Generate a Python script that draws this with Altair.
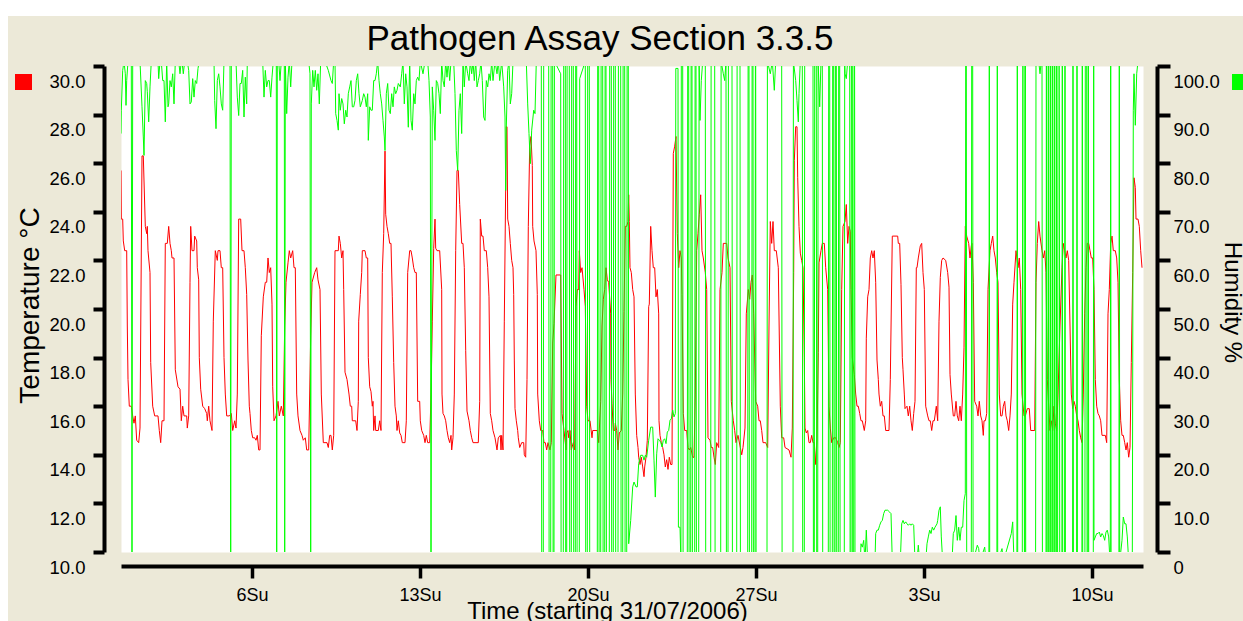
import altair as alt
import pandas as pd

# ---------------- data (hours since 31/07/2006 00:00) ----------------
temperature_readings = [
    (13.0, 25.7), (13.3, 23.7), (14.7, 23.7), (15.3, 22.8), (16.7, 22.4), (18.7, 22.4), (19.3, 19.3), (20.0, 17.1),
    (21.3, 16.0), (23.3, 16.0), (24.7, 15.6), (26.0, 15.3), (27.3, 15.6), (28.7, 14.6), (30.7, 14.5), (32.0, 15.1),
    (34.0, 26.3), (35.3, 26.3), (37.3, 23.4), (38.7, 23.1), (39.3, 23.4), (40.0, 22.4), (42.0, 21.5), (42.7, 17.8),
    (44.7, 16.0), (46.7, 15.6), (50.0, 15.6), (51.3, 15.0), (52.7, 14.5), (54.0, 15.4), (56.0, 15.4), (57.3, 22.7),
    (59.3, 22.7), (60.7, 23.4), (62.0, 22.7), (63.3, 22.4), (64.0, 22.1), (66.0, 22.1), (67.3, 17.5), (70.0, 16.8),
    (72.0, 16.7), (73.3, 15.4), (74.7, 16.0), (76.0, 15.6), (78.7, 15.6), (79.3, 15.1), (80.7, 15.6), (82.0, 21.1),
    (82.7, 23.4), (84.0, 22.4), (86.0, 22.4), (86.7, 23.0), (88.7, 22.8), (89.3, 21.7), (90.7, 21.2), (91.3, 18.0),
    (92.7, 16.7), (94.7, 16.0), (96.7, 15.9), (98.7, 15.7), (99.3, 15.4), (100.7, 16.0), (102.0, 15.4), (104.0, 15.0),
    (105.3, 19.5), (107.3, 22.4), (109.3, 22.0), (110.0, 22.4), (112.0, 22.4), (113.3, 21.7), (114.7, 21.7), (116.0, 18.0),
    (117.3, 16.5), (118.7, 15.6), (121.3, 15.6), (123.3, 15.7), (124.7, 15.0), (126.7, 15.4), (128.0, 15.1), (129.3, 16.5),
    (130.7, 23.7), (132.7, 23.7), (134.0, 22.4), (136.0, 22.4), (137.3, 21.7), (138.7, 20.6), (140.0, 17.9), (141.3, 16.0),
    (142.0, 15.7), (143.3, 15.0), (144.7, 14.7), (146.7, 14.7), (148.0, 14.6), (149.3, 14.8), (150.7, 14.2), (152.0, 14.2),
    (153.3, 18.9), (155.3, 20.5), (157.3, 21.1), (158.7, 21.1), (160.0, 22.1), (161.3, 21.5), (162.7, 21.7), (164.0, 20.2),
    (164.7, 16.8), (166.0, 15.4), (168.0, 15.6), (170.0, 16.2), (171.3, 15.6), (173.3, 16.0), (175.3, 15.6), (176.7, 19.3),
    (178.0, 21.1), (180.0, 21.9), (181.3, 22.4), (182.7, 22.1), (184.7, 22.4), (186.0, 21.7), (187.3, 21.7), (188.7, 16.5),
    (190.0, 15.6), (192.0, 15.0), (194.0, 14.8), (195.3, 14.6), (197.3, 14.7), (198.7, 14.2), (200.7, 14.2), (202.7, 18.9),
    (204.0, 21.1), (206.7, 21.5), (208.7, 21.7), (210.0, 21.2), (212.0, 20.8), (213.3, 16.5), (215.3, 14.5), (219.0, 14.5),
    (220.3, 14.3), (221.7, 14.8), (223.0, 14.8), (224.3, 14.2), (225.7, 14.8), (227.0, 22.4), (230.3, 22.4), (231.0, 23.0),
    (232.3, 22.7), (233.7, 22.1), (235.0, 22.4), (235.7, 20.8), (237.0, 17.4), (239.0, 17.1), (241.0, 16.5), (242.3, 16.0),
    (243.7, 16.0), (244.3, 15.4), (247.7, 15.4), (249.0, 15.0), (250.3, 16.2), (250.7, 19.5), (252.3, 20.6), (253.7, 21.5),
    (254.3, 22.4), (257.0, 22.4), (258.3, 22.1), (259.7, 22.1), (260.3, 18.0), (261.7, 16.8), (263.0, 16.6), (264.3, 16.0),
    (265.0, 16.2), (265.7, 15.0), (267.0, 15.6), (267.7, 15.0), (270.3, 15.0), (271.7, 15.4), (273.0, 15.0), (274.3, 21.5),
    (275.7, 23.1), (277.0, 26.5), (277.7, 23.9), (279.0, 23.4), (280.3, 23.1), (281.7, 22.7), (283.0, 22.7), (284.3, 20.5),
    (285.7, 17.8), (287.0, 16.0), (288.3, 15.6), (289.0, 15.0), (290.3, 15.4), (291.7, 14.9), (293.0, 14.8), (294.3, 14.5),
    (297.0, 14.5), (298.3, 15.4), (299.7, 21.5), (301.7, 22.4), (303.0, 22.4), (304.3, 22.1), (305.7, 21.7), (307.0, 21.5),
    (308.3, 21.5), (309.7, 16.2), (311.7, 16.2), (312.3, 15.4), (313.7, 15.0), (315.7, 14.8), (317.0, 14.5), (318.3, 14.8),
    (319.7, 14.5), (321.7, 14.5), (323.0, 16.5), (324.3, 19.5), (325.7, 22.5), (327.0, 23.7), (327.7, 22.5), (329.0, 22.4),
    (331.7, 22.4), (333.7, 20.8), (334.0, 16.5), (335.0, 15.7), (336.3, 15.6), (337.7, 15.4), (339.0, 15.0), (340.3, 14.7),
    (341.7, 14.5), (343.0, 14.8), (343.7, 14.2), (345.0, 14.7), (346.3, 16.5), (347.7, 22.4), (349.0, 25.7), (350.3, 25.7),
    (351.7, 24.3), (353.7, 22.7), (355.0, 22.7), (356.3, 21.7), (357.7, 18.3), (359.0, 15.8), (361.0, 15.4), (362.3, 15.0),
    (363.7, 14.7), (365.0, 14.5), (370.3, 14.5), (371.7, 16.2), (372.3, 23.7), (373.7, 23.0), (375.0, 23.0), (376.3, 22.4),
    (378.3, 22.4), (379.7, 21.7), (381.0, 20.5), (382.3, 15.7), (383.7, 15.4), (385.0, 15.0), (387.0, 14.7), (389.0, 14.2),
    (390.3, 14.7), (392.3, 14.8), (393.0, 14.2), (393.7, 14.8), (395.0, 14.2), (396.3, 19.5), (398.3, 27.5), (399.0, 27.5),
    (399.7, 23.7), (401.0, 23.4), (402.3, 22.7), (403.7, 22.0), (405.0, 21.7), (405.7, 20.6), (406.3, 17.9), (407.0, 15.9),
    (408.3, 15.4), (409.7, 15.0), (410.3, 14.7), (411.7, 14.3), (413.7, 14.5), (415.7, 14.5), (416.3, 14.0), (417.7, 13.9),
    (419.0, 17.1), (420.3, 23.4), (421.7, 26.7), (423.0, 27.1), (424.3, 25.9), (424.7, 23.4), (426.0, 22.8), (428.0, 22.4),
    (429.3, 20.6), (429.7, 16.5), (431.3, 15.4), (432.7, 15.0), (434.7, 15.0), (436.0, 14.5), (437.3, 14.5), (438.7, 14.2),
    (440.0, 14.5), (442.0, 14.2), (443.3, 14.5), (444.7, 18.6), (446.0, 19.4), (448.0, 21.4), (452.7, 21.4), (454.0, 15.7),
    (456.0, 15.0), (457.3, 14.5), (458.0, 14.2), (458.7, 14.9), (460.0, 15.0), (460.7, 14.7), (462.0, 15.0), (463.3, 14.2),
    (465.3, 14.5), (466.7, 14.2), (468.0, 20.1), (469.3, 20.8), (470.7, 20.8), (471.3, 22.4), (472.7, 21.5), (474.0, 21.7),
    (474.7, 21.4), (476.0, 20.8), (477.3, 20.1), (478.7, 16.0), (480.0, 15.4), (482.0, 15.4), (484.0, 14.7), (484.7, 15.0),
    (489.3, 15.0), (490.7, 14.5), (492.7, 16.2), (494.0, 19.3), (495.3, 20.4), (496.7, 20.8), (498.0, 21.7), (499.3, 21.2),
    (500.7, 21.1), (502.7, 19.8), (503.0, 17.1), (504.0, 16.1), (505.3, 15.0), (506.7, 15.0), (507.3, 15.3), (508.7, 15.0),
    (510.0, 14.2), (511.3, 14.9), (513.3, 15.0), (514.7, 16.5), (516.0, 19.9), (517.3, 23.4), (518.7, 23.4), (520.0, 23.6),
    (520.7, 24.7), (521.3, 23.6), (522.0, 21.7), (523.3, 21.5), (524.7, 20.8), (526.0, 20.5), (527.3, 16.5), (528.7, 14.8),
    (530.0, 14.3), (530.7, 13.9), (532.0, 13.6), (533.3, 13.9), (534.7, 13.5), (536.0, 13.1), (536.7, 13.5), (538.0, 13.9),
    (539.3, 14.6), (540.7, 20.1), (541.3, 20.2), (542.7, 23.4), (544.0, 22.4), (545.3, 21.7), (546.7, 21.7), (548.0, 20.5),
    (549.3, 20.8), (550.7, 19.8), (551.0, 15.4), (552.0, 14.8), (553.3, 14.5), (554.7, 14.3), (556.0, 14.0), (557.3, 13.5),
    (558.7, 13.8), (560.0, 13.4), (561.3, 13.9), (562.7, 13.6), (564.0, 13.6), (565.3, 26.4), (566.7, 26.7), (568.0, 27.1),
    (569.3, 23.1), (570.7, 21.7), (572.0, 22.4), (573.3, 22.1), (574.0, 20.6), (575.3, 15.7), (576.7, 15.0), (578.7, 15.0),
    (580.0, 14.3), (581.3, 14.2), (582.7, 14.3), (584.7, 13.9), (586.0, 13.9), (587.3, 16.5), (588.7, 22.4), (590.0, 23.1),
    (591.3, 23.9), (592.7, 24.7), (594.0, 22.4), (595.3, 22.1), (597.3, 21.5), (598.7, 20.8), (600.0, 14.7), (602.0, 14.6),
    (603.3, 14.3), (604.7, 14.3), (606.0, 13.9), (607.3, 13.6), (608.7, 14.5), (610.7, 14.3), (612.0, 20.8), (614.0, 21.5),
    (615.3, 22.7), (618.7, 22.7), (620.0, 22.1), (622.0, 21.7), (623.3, 16.2), (625.3, 15.4), (626.7, 15.0), (628.0, 14.5),
    (630.0, 14.8), (632.3, 14.3), (633.7, 14.0), (635.0, 14.3), (637.0, 15.1), (638.3, 19.8), (640.3, 20.8), (641.7, 20.4),
    (643.0, 21.1), (644.3, 21.4), (645.7, 19.8), (647.7, 16.2), (649.7, 16.0), (651.0, 15.4), (652.3, 15.4), (653.7, 15.0),
    (655.0, 14.5), (657.7, 14.5), (659.7, 14.3), (661.0, 19.3), (662.3, 23.6), (663.7, 22.7), (665.0, 23.6), (666.3, 22.4),
    (668.3, 22.4), (670.3, 21.7), (672.3, 16.0), (673.7, 14.7), (675.7, 14.7), (677.0, 14.3), (681.0, 14.2), (683.0, 13.9),
    (684.3, 15.1), (685.7, 21.5), (686.3, 26.1), (687.7, 27.5), (689.0, 27.5), (689.7, 25.4), (691.0, 23.4), (692.3, 22.3),
    (693.7, 22.0), (695.0, 21.7), (696.3, 18.0), (697.0, 15.1), (698.3, 14.9), (699.7, 15.0), (701.0, 14.5), (702.3, 14.5),
    (703.7, 14.8), (705.0, 14.5), (706.3, 14.5), (707.7, 13.6), (709.0, 14.6), (710.3, 18.2), (711.0, 21.9), (713.0, 22.4),
    (714.3, 22.7), (716.3, 22.7), (717.7, 21.7), (719.7, 20.8), (721.0, 16.0), (722.3, 15.1), (723.7, 14.5), (725.7, 14.7),
    (727.7, 14.7), (729.7, 14.5), (731.0, 14.3), (732.3, 14.5), (733.7, 20.8), (735.0, 23.4), (737.0, 23.6), (738.3, 24.3),
    (739.7, 22.7), (741.0, 23.4), (742.3, 23.2), (743.0, 20.8), (744.3, 18.0), (746.3, 17.3), (747.7, 16.5), (749.0, 16.0),
    (750.3, 16.0), (751.7, 15.7), (753.0, 15.4), (754.3, 15.4), (756.3, 15.0), (757.7, 15.4), (758.3, 18.8), (759.7, 20.5),
    (761.0, 20.8), (762.3, 22.1), (763.7, 22.4), (765.0, 22.1), (766.3, 22.4), (767.7, 21.1), (769.0, 17.9), (770.3, 17.1),
    (771.0, 16.5), (772.3, 16.0), (773.7, 16.2), (775.0, 15.6), (776.3, 15.6), (777.7, 15.0), (781.0, 15.0), (782.3, 17.1),
    (784.3, 23.0), (789.7, 23.0), (790.3, 22.7), (791.7, 22.7), (793.0, 21.0), (794.3, 18.0), (795.0, 17.5), (796.3, 16.5),
    (797.0, 15.9), (799.0, 16.0), (800.3, 15.6), (801.7, 16.0), (803.0, 15.4), (804.3, 15.0), (805.7, 15.7), (807.0, 16.2),
    (808.3, 21.7), (809.0, 21.7), (810.3, 22.1), (812.3, 22.6), (813.7, 22.7), (815.0, 21.5), (816.3, 20.8), (817.7, 16.0),
    (819.7, 15.6), (821.0, 15.4), (822.3, 15.4), (823.7, 15.0), (825.0, 15.4), (826.3, 15.4), (828.3, 16.0), (829.7, 15.4),
    (831.0, 19.5), (832.3, 21.3), (833.7, 22.0), (835.0, 22.1), (837.7, 22.0), (839.7, 21.5), (841.0, 20.9), (842.0, 17.3),
    (843.3, 16.5), (845.3, 15.6), (846.7, 15.6), (848.0, 16.2), (849.3, 15.6), (850.7, 15.4), (852.0, 16.0), (853.3, 15.4),
    (854.7, 16.5), (856.0, 18.4), (857.3, 23.4), (858.7, 23.0), (860.7, 22.7), (862.0, 22.1), (863.3, 22.6), (864.0, 22.7),
    (865.3, 21.1), (866.7, 16.2), (868.7, 16.0), (870.0, 15.6), (871.3, 16.2), (872.7, 15.6), (874.0, 15.4), (875.3, 14.8),
    (876.0, 15.4), (877.3, 15.4), (878.7, 15.7), (880.0, 20.8), (882.0, 22.4), (883.3, 22.7), (884.7, 23.0), (886.0, 22.4),
    (887.3, 22.1), (888.7, 21.5), (890.0, 21.1), (891.3, 16.5), (892.7, 15.6), (894.0, 15.6), (895.3, 16.0), (896.7, 16.2),
    (898.0, 15.6), (899.3, 15.4), (900.7, 15.0), (902.0, 15.6), (903.3, 16.5), (904.7, 20.2), (906.0, 21.1), (908.0, 22.4),
    (910.0, 21.7), (911.3, 22.1), (912.7, 20.8), (914.0, 16.5), (916.0, 15.6), (917.3, 15.6), (919.3, 15.9), (921.3, 15.9),
    (922.7, 15.0), (926.7, 15.0), (928.0, 21.1), (929.3, 22.7), (930.7, 23.6), (932.0, 23.0), (934.0, 22.4), (935.3, 22.1),
    (936.7, 22.4), (938.0, 21.5), (939.3, 17.1), (942.0, 15.0), (943.3, 15.4), (944.7, 15.0), (946.0, 16.0), (947.3, 15.3),
    (948.7, 15.0), (950.0, 16.5), (952.0, 19.3), (954.0, 21.7), (955.3, 22.7), (956.7, 22.4), (958.0, 22.1), (959.3, 22.4),
    (960.7, 22.0), (962.0, 19.3), (963.3, 16.5), (964.7, 15.9), (966.0, 16.2), (967.3, 16.0), (968.7, 15.6), (970.0, 15.4),
    (971.3, 15.0), (972.7, 14.7), (974.0, 14.5), (975.3, 16.5), (976.7, 19.8), (978.0, 21.7), (979.3, 22.7), (980.7, 22.7),
    (982.0, 22.4), (983.3, 22.1), (984.7, 22.1), (986.0, 20.8), (987.3, 17.1), (988.7, 16.0), (990.0, 15.7), (991.3, 15.6),
    (992.7, 15.4), (994.0, 14.8), (997.3, 14.8), (998.7, 14.5), (1000.0, 19.8), (1001.3, 20.8), (1002.7, 22.7), (1004.0, 23.0),
    (1005.3, 22.4), (1007.3, 22.4), (1008.7, 22.1), (1010.0, 21.1), (1011.3, 17.1), (1012.7, 15.4), (1014.0, 14.8), (1015.3, 14.8),
    (1016.7, 14.5), (1018.0, 14.2), (1019.3, 14.5), (1020.7, 13.9), (1022.0, 14.3), (1023.3, 17.8), (1024.7, 21.5), (1026.0, 25.4),
    (1027.3, 25.0), (1028.0, 23.7), (1030.0, 23.7), (1031.3, 23.4), (1032.7, 22.4), (1034.0, 21.7),
]

# humidity: 101 / -2 mark readings that run off the top / bottom of the plot
humidity_readings = [
    (13.0, 86.1), (13.3, 90.9), (14.7, 99.1), (16.0, 101), (17.3, 98.4), (18.0, 91.9), (18.7, 97.0), (20.0, 101),
    (23.3, 101), (24.0, -2), (24.7, 101), (32.0, 101), (34.0, 91.6), (35.3, 85.4), (36.0, 81.6), (37.3, 97.0),
    (38.7, 96.4), (39.3, 94.7), (40.7, 88.5), (42.0, 95.7), (43.3, 101), (50.0, 101), (50.7, 97.4), (52.0, 101),
    (53.3, 101), (54.7, 97.0), (56.0, 97.0), (57.3, 88.5), (58.7, 101), (60.0, 91.6), (60.7, 92.2), (62.0, 97.0),
    (63.3, 95.7), (64.7, 98.4), (66.0, 92.2), (67.3, 101), (70.7, 101), (72.0, 98.4), (73.3, 101), (74.0, 101),
    (75.3, 98.4), (76.7, 101), (79.3, 101), (80.7, 99.1), (82.0, 92.2), (83.3, 92.6), (84.7, 97.4), (86.0, 93.6),
    (87.3, 97.0), (88.7, 96.4), (90.0, 99.5), (91.3, 101), (106.0, 101), (106.7, 92.9), (108.0, 87.1), (109.3, 97.0),
    (110.7, 98.4), (112.0, 95.7), (113.3, 92.2), (114.7, 90.9), (116.0, 101), (122.0, 101), (122.7, -2), (123.3, 101),
    (128.0, 101), (129.3, 93.6), (130.7, 89.8), (132.0, 96.4), (133.3, 96.4), (134.7, 99.1), (136.0, 89.5), (137.3, 97.7),
    (138.7, 92.2), (139.3, 101), (154.7, 101), (156.0, 93.6), (157.3, 99.1), (158.7, 95.7), (160.0, 97.0), (161.3, 97.0),
    (162.7, 93.6), (164.0, 97.7), (165.3, 101), (168.3, 101), (168.7, -2), (169.3, 101), (170.7, 101), (172.0, 97.0),
    (173.3, 101), (176.3, 101), (176.7, -2), (177.3, 101), (178.7, 90.2), (180.0, 97.7), (181.3, 101), (182.7, 95.7),
    (184.0, 101), (200.7, 101), (202.0, 98.4), (202.7, -2), (203.3, 92.2), (204.7, 99.1), (206.0, 95.7), (207.3, 99.1),
    (208.7, 95.0), (210.0, 98.4), (211.3, 92.2), (212.7, 101), (217.0, 101), (220.3, 99.1), (223.0, 97.0), (224.3, 96.4),
    (225.7, 101), (227.0, 101), (227.7, 90.2), (229.0, 88.8), (230.3, 86.8), (231.0, 94.3), (232.3, 90.9), (233.7, 93.3),
    (235.0, 92.2), (236.3, 88.1), (237.7, 90.9), (239.0, 89.5), (240.3, 94.3), (241.7, 95.7), (243.0, 97.0), (244.3, 91.6),
    (245.7, 91.6), (247.0, 92.9), (248.3, 97.0), (249.7, 98.4), (251.0, 94.3), (252.3, 91.6), (254.3, 92.9), (255.7, 94.3),
    (257.0, 93.6), (258.3, 91.6), (259.7, 94.3), (260.3, 84.7), (261.7, 91.6), (263.0, 90.9), (264.3, 90.9), (265.7, 97.0),
    (267.0, 97.0), (268.3, 98.4), (269.7, 101), (271.0, 97.0), (272.3, 94.3), (273.7, 92.2), (275.0, 88.8), (276.3, 85.4),
    (277.0, 82.6), (278.3, 94.3), (279.7, 96.4), (281.0, 90.9), (282.3, 90.2), (283.7, 94.3), (285.0, 91.6), (286.3, 95.7),
    (287.7, 94.3), (289.0, 95.0), (290.3, 96.4), (292.3, 95.7), (293.7, 98.4), (295.0, 101), (296.3, 92.2), (297.7, 98.4),
    (299.0, 95.7), (300.3, 87.4), (301.7, 101), (303.0, 88.8), (304.3, 86.8), (305.7, 94.3), (307.0, 92.2), (308.3, 97.0),
    (309.7, 97.7), (311.0, 97.0), (312.3, 101), (315.0, 98.4), (317.0, 101), (319.7, 101), (321.0, 97.0), (322.3, 89.5),
    (323.0, -2), (324.3, 95.7), (325.7, 90.9), (327.0, 84.7), (328.3, 97.0), (329.7, 96.4), (331.0, 94.3), (332.3, 90.2),
    (333.7, 101), (335.0, 97.0), (336.3, 95.7), (337.7, 101), (339.0, 97.7), (340.3, 101), (341.7, 97.0), (343.0, 101),
    (345.7, 101), (347.0, 94.3), (348.3, 82.6), (349.7, 78.5), (351.0, 90.9), (352.3, 94.3), (353.7, 86.1), (355.0, 101),
    (356.3, 95.7), (357.7, 101), (359.7, 98.4), (361.0, 97.0), (362.3, 101), (363.7, 98.4), (365.0, 101), (366.3, 97.0),
    (367.7, 101), (369.0, 95.7), (370.3, 97.0), (371.7, 98.4), (373.0, 101), (374.3, 97.0), (375.7, 89.5), (377.0, 88.8),
    (378.3, 97.0), (379.7, 95.7), (381.0, 98.4), (382.3, 97.0), (383.7, 101), (385.0, 97.0), (387.0, 101), (389.0, 98.4),
    (390.3, 101), (391.7, 97.0), (393.7, 101), (395.7, 95.7), (397.0, 89.5), (397.7, 74.4), (398.3, 87.4), (399.7, 99.1),
    (401.0, 101), (402.3, 92.2), (403.7, 94.3), (405.0, 101), (418.3, 101), (419.7, 92.2), (421.0, 86.1), (422.3, 79.9),
    (423.7, 86.8), (425.7, 90.9), (427.0, 90.2), (428.3, 101),
    (433.3, 101), (433.7, -2), (435.3, -2), (435.7, 101), (440.7, 101), (441.1, -2), (442.7, -2), (443.1, 101),
    (444.7, 101), (445.1, -2), (446.0, -2), (446.4, 101), (452.7, 98.4), (453.1, -2), (455.3, -2), (455.7, 101),
    (457.3, 101), (457.7, -2), (458.7, -2), (459.1, 101), (461.3, 101), (461.7, -2), (463.3, -2), (463.7, 101),
    (465.3, 101), (465.7, -2), (467.3, -2), (467.7, 101), (468.7, 101), (469.1, -2), (471.3, -2), (471.7, 97.4),
    (477.3, 101), (477.7, -2), (479.3, -2), (479.7, 101), (481.3, 101), (481.7, -2), (489.3, -2), (489.7, 101),
    (490.7, 101), (491.1, -2), (492.7, -2), (493.1, 101), (494.7, 101), (495.1, -2), (496.7, -2), (497.1, 101),
    (498.0, 101), (498.4, -2), (501.3, -2), (501.7, 101), (503.3, 101), (503.7, -2), (505.3, -2), (505.7, 101),
    (507.3, 101), (507.7, -2), (510.0, -2), (510.4, 101), (512.7, 101), (513.1, -2), (514.7, -2), (515.1, 101),
    (516.7, 101), (517.1, -2), (518.7, -2), (519.1, 101), (520.3, 101), (520.7, 1.7),
    (522.7, 6.5), (524.7, 13.4), (526.0, 14.4), (528.0, 13.4), (529.3, 13.4), (530.7, 18.2), (532.7, 19.9), (534.7, 19.9),
    (536.0, 18.9), (537.3, 19.9), (538.7, 19.5), (540.7, 23.0), (542.7, 25.7), (544.7, 25.7), (546.0, 18.9), (547.3, 11.3),
    (548.7, 20.2), (550.0, 23.3), (551.3, 23.0), (552.7, 22.6), (554.0, 21.6), (555.3, 23.0), (556.7, 23.3), (558.0, 22.3),
    (559.3, 24.7), (560.7, 25.0), (562.0, 27.1), (563.3, 27.4), (564.7, 29.2), (566.0, 27.8), (567.3, 28.5), (567.8, 99.5),
    (570.0, 99.5), (570.4, 5.1), (572.0, 5.1), (572.9, -2), (573.3, 101), (574.7, 101), (575.1, -2), (579.3, -2),
    (579.7, 101), (580.7, 101), (581.1, -2), (582.7, -2), (583.1, 101), (584.0, 101), (584.4, -2), (586.7, -2),
    (587.1, 101), (588.0, 101), (588.4, -2), (590.7, -2), (591.1, 101), (592.0, 88.8), (593.3, 97.0), (594.7, 101),
    (597.3, 101), (597.7, -2), (602.7, -2), (603.1, 101), (606.7, 101), (607.1, -2), (612.7, -2), (613.1, 101),
    (615.3, 98.4), (616.7, 97.0), (618.0, 101), (618.4, -2), (620.0, -2), (620.4, 101), (624.0, 101), (624.4, -2),
    (628.7, -2), (629.1, 101), (632.0, 101), (632.4, -2), (639.7, -2), (640.1, 101), (641.0, 101), (641.4, -2),
    (643.7, -2), (644.1, 101), (645.0, 101), (645.4, -2), (647.0, -2), (647.4, 101), (647.7, 101), (648.1, -2),
    (659.0, -2), (659.4, 101), (662.3, 98.4), (664.3, 101), (666.3, 95.0), (667.7, 101), (673.7, 101), (674.1, -2),
    (685.0, -2), (685.4, 101), (687.7, 97.0), (689.0, 92.9), (690.3, 88.5), (691.0, 94.3), (692.3, 101), (694.3, 101),
    (694.7, -2), (696.3, -2), (696.7, 101), (705.0, 101), (705.4, -2), (706.3, -2), (706.7, 101), (708.3, 101),
    (708.7, -2), (709.7, -2), (710.1, 101), (711.7, 91.6), (713.0, 101), (714.3, 101), (714.7, -2), (720.3, -2),
    (720.7, 101), (721.7, 101), (722.1, -2), (724.3, -2), (724.7, 101), (725.7, 101), (726.1, -2), (727.0, -2),
    (727.4, 101), (728.3, 101), (728.7, -2), (730.3, -2), (730.7, 101), (731.7, 101), (732.1, -2), (736.3, -2),
    (736.7, 101), (737.0, 98.4), (738.3, 97.4), (739.7, 101), (741.7, 101), (742.1, -2), (743.0, -2), (743.4, 101),
    (744.3, 101), (744.7, -2), (745.7, -2), (746.1, 101), (746.6, 101), (747.0, -2),
    (752.3, -2), (753.0, 1.7), (754.3, 1.0), (755.7, 2.4), (757.0, -2), (758.3, 4.5), (759.7, -2), (767.0, -2),
    (767.7, 3.8), (769.0, 4.5), (770.3, 4.5), (771.7, 5.5), (773.0, 6.2), (774.3, 6.5), (775.7, 7.9), (777.0, 8.6),
    (779.7, 8.6), (781.7, 8.2), (783.0, 7.9), (784.3, -2), (792.3, -2), (793.7, 5.8), (795.0, 6.5), (796.3, 5.8),
    (797.7, 6.2), (799.0, 5.8), (800.3, 5.5), (801.7, 5.8), (803.0, 5.5), (804.3, 5.8), (805.7, 5.5), (807.0, -2),
    (809.0, -2), (810.3, 1.4), (811.7, -2), (817.7, -2), (819.0, 1.7), (820.3, 3.1), (821.7, 4.5), (823.0, 3.8),
    (824.3, 5.1), (825.7, 4.5), (827.0, 5.1), (829.0, 5.8), (829.7, 6.5), (831.0, 8.6), (832.3, 9.3), (833.3, 3.1),
    (834.7, -2), (844.0, -2), (845.3, 3.8), (846.7, 4.5), (848.0, 7.5), (849.3, 2.4), (850.7, 5.1), (852.0, 2.4),
    (853.3, 5.1), (854.7, 5.1), (856.0, 10.6), (857.3, 12.0), (857.7, 101), (858.3, 101), (858.7, -2), (863.3, -2),
    (863.7, 101), (864.7, 101), (865.1, -2), (869.3, 1.4), (870.7, 0.7), (872.0, -2), (876.7, 1.0), (878.0, -2),
    (880.9, -2), (881.3, 101), (881.7, -2), (888.9, -2), (889.3, 101), (889.7, -2), (894.0, 0.7), (895.3, -2),
    (903.3, 3.8), (904.7, 6.2), (906.0, -2), (908.9, -2), (909.3, 101), (909.7, -2), (914.3, -2), (914.7, 101),
    (916.0, 101), (916.4, -2), (916.9, -2), (917.3, 101), (917.7, -2), (927.6, -2), (928.0, 101), (930.7, 101),
    (932.0, 98.4), (933.3, 101), (934.0, 101), (934.4, -2), (938.0, -2), (938.4, 101), (938.8, -2), (939.9, -2),
    (940.3, 101), (940.7, -2), (941.9, -2), (942.3, 101), (942.7, -2), (943.9, -2), (944.3, 101), (944.7, -2),
    (945.9, -2), (946.3, 101), (946.7, -2), (947.9, -2), (948.3, 101), (948.7, -2), (949.6, -2), (950.0, 101),
    (951.3, 101), (951.7, -2), (953.9, -2), (954.3, 101), (954.7, -2), (956.6, -2), (957.0, 101), (957.4, -2),
    (964.6, -2), (965.0, 101), (965.4, -2), (968.6, -2), (969.0, 101), (969.4, -2), (973.9, -2), (974.3, 101),
    (974.7, -2), (976.9, -2), (977.3, 101), (978.7, 101), (979.1, -2), (979.9, -2), (980.3, 101), (980.7, -2),
    (985.3, -2), (985.7, 101), (986.0, 2.4), (987.3, 3.1), (988.7, 3.8), (990.0, 3.8), (991.3, 4.1), (992.7, 3.1),
    (994.0, 3.8), (995.3, 3.4), (996.7, 2.4), (998.0, 4.1), (999.3, 4.5), (1000.7, 3.1), (1002.0, -2), (1002.3, -2),
    (1002.7, 101), (1003.1, -2), (1010.9, -2), (1011.3, 101), (1011.7, -2), (1014.0, 2.4), (1015.3, 7.2), (1016.7, 5.8),
    (1018.0, 5.8), (1019.3, 3.1), (1020.7, -2), (1024.3, -2), (1025.3, 90.9), (1026.0, 98.4), (1027.3, 87.8), (1028.7, 98.4),
    (1030.0, 101), (1035.0, 101),
]

chart_title = "Pathogen Assay Section 3.3.5"
week_tick_hours = [144, 312, 480, 648, 816, 984]
week_tick_labels = ["6Su", "13Su", "20Su", "27Su", "3Su", "10Su"]
temp_ticks = [10, 12, 14, 16, 18, 20, 22, 24, 26, 28, 30]
hum_ticks = [0, 10, 20, 30, 40, 50, 60, 70, 80, 90, 100]

temp_df = pd.DataFrame(temperature_readings, columns=["hour", "temp"])
hum_df = pd.DataFrame(humidity_readings, columns=["hour", "hum"])
one_row = pd.DataFrame({"k": [0]})

# ---------------- styling ----------------
W, H = 1022, 486
FONT = "Liberation Sans"
BEIGE = "#ECE9D8"

label_expr = ("[" + ",".join("'%s'" % s for s in week_tick_labels) + "][indexof(["
              + ",".join(str(v) for v in week_tick_hours) + "], datum.value)]")

x_enc = alt.X(
    "hour:Q",
    scale=alt.Scale(domain=[13, 1035], nice=False, zero=False),
    axis=alt.Axis(
        values=week_tick_hours, labelExpr=label_expr, grid=False,
        domainColor="black", domainWidth=4, tickColor="black", tickWidth=3.5, tickSize=12,
        offset=14, labelFont=FONT, labelFontSize=18, labelColor="black", labelPadding=22,
        labelBaseline="alphabetic", labelOverlap=False, labelFlush=False,
        title="Time (starting 31/07/2006)", titleFont=FONT, titleFontSize=24,
        titleFontWeight="normal", titleColor="black", titleX=486, titleY=52,
        titleBaseline="alphabetic", titleAlign="center", zindex=1,
    ),
)

temp_line = alt.Chart(temp_df).mark_line(color="#FF0000", strokeWidth=1, clip=True).encode(
    x=x_enc,
    y=alt.Y(
        "temp:Q",
        scale=alt.Scale(domain=[10, 30], nice=False, zero=False),
        axis=alt.Axis(
            orient="left", values=temp_ticks, format=".1f", grid=False,
            domainColor="black", domainWidth=4, tickColor="black", tickWidth=4, tickSize=11,
            offset=17, labelFont=FONT, labelFontSize=18.5, labelColor="black", labelPadding=8,
            labelBaseline="alphabetic", labelOffset=21, labelOverlap=False,
            title="Temperature °C", titleFont=FONT, titleFontSize=28, titleFontWeight="normal",
            titleColor="black", titleAngle=-90, titleX=-66, titleY=239,
            titleBaseline="alphabetic", titleAlign="center", zindex=1,
        ),
    ),
)

hum_line = alt.Chart(hum_df).mark_line(color="#00FF00", strokeWidth=1, clip=True).encode(
    x=x_enc,
    y=alt.Y(
        "hum:Q",
        scale=alt.Scale(domain=[0, 100], nice=False, zero=False),
        axis=alt.Axis(
            orient="right", values=hum_ticks,
            labelExpr="datum.value == 0 ? '0' : format(datum.value, '.1f')", grid=False,
            domainColor="black", domainWidth=4, tickColor="black", tickWidth=4, tickSize=13,
            offset=14, labelFont=FONT, labelFontSize=18.5, labelColor="black", labelPadding=3,
            labelAlign="left", labelBaseline="alphabetic", labelOffset=21, labelOverlap=False,
            title="Humidity %", titleFont=FONT, titleFontSize=24, titleFontWeight="normal",
            titleColor="black", titleAngle=90, titleX=67, titleY=236,
            titleBaseline="alphabetic", titleAlign="center", zindex=1,
        ),
    ),
)

# white margins of the window around the beige panel
top_strip = alt.Chart(one_row).mark_rect(color="white").encode(
    x=alt.value(-121), x2=alt.value(1122), y=alt.value(-66), y2=alt.value(-50))
left_strip = alt.Chart(one_row).mark_rect(color="white").encode(
    x=alt.value(-121), x2=alt.value(-113), y=alt.value(-66), y2=alt.value(560))

# series colour keys beside each axis
red_key = alt.Chart(one_row).mark_rect(color="#FF0000").encode(
    x=alt.value(-106), x2=alt.value(-89), y=alt.value(8), y2=alt.value(24))
green_key = alt.Chart(one_row).mark_rect(color="#00FF00").encode(
    x=alt.value(1111), x2=alt.value(1130), y=alt.value(8), y2=alt.value(24))

# chart title
title_mark = alt.Chart(one_row).mark_text(
    font=FONT, fontSize=35, color="black", align="center", baseline="alphabetic"
).encode(x=alt.value(479), y=alt.value(-16.5), text=alt.value(chart_title))

chart = alt.layer(
    top_strip, left_strip, red_key, green_key, title_mark, temp_line, hum_line
).resolve_scale(y="independent").properties(
    width=W, height=H,
    autosize=alt.AutoSizeParams(type="none"),
    padding={"left": 121, "top": 66, "right": 100, "bottom": 69},
).configure(background=BEIGE).configure_view(fill="white", stroke="transparent")

chart.save("out.html", embed_options={"renderer": "svg", "actions": False})
